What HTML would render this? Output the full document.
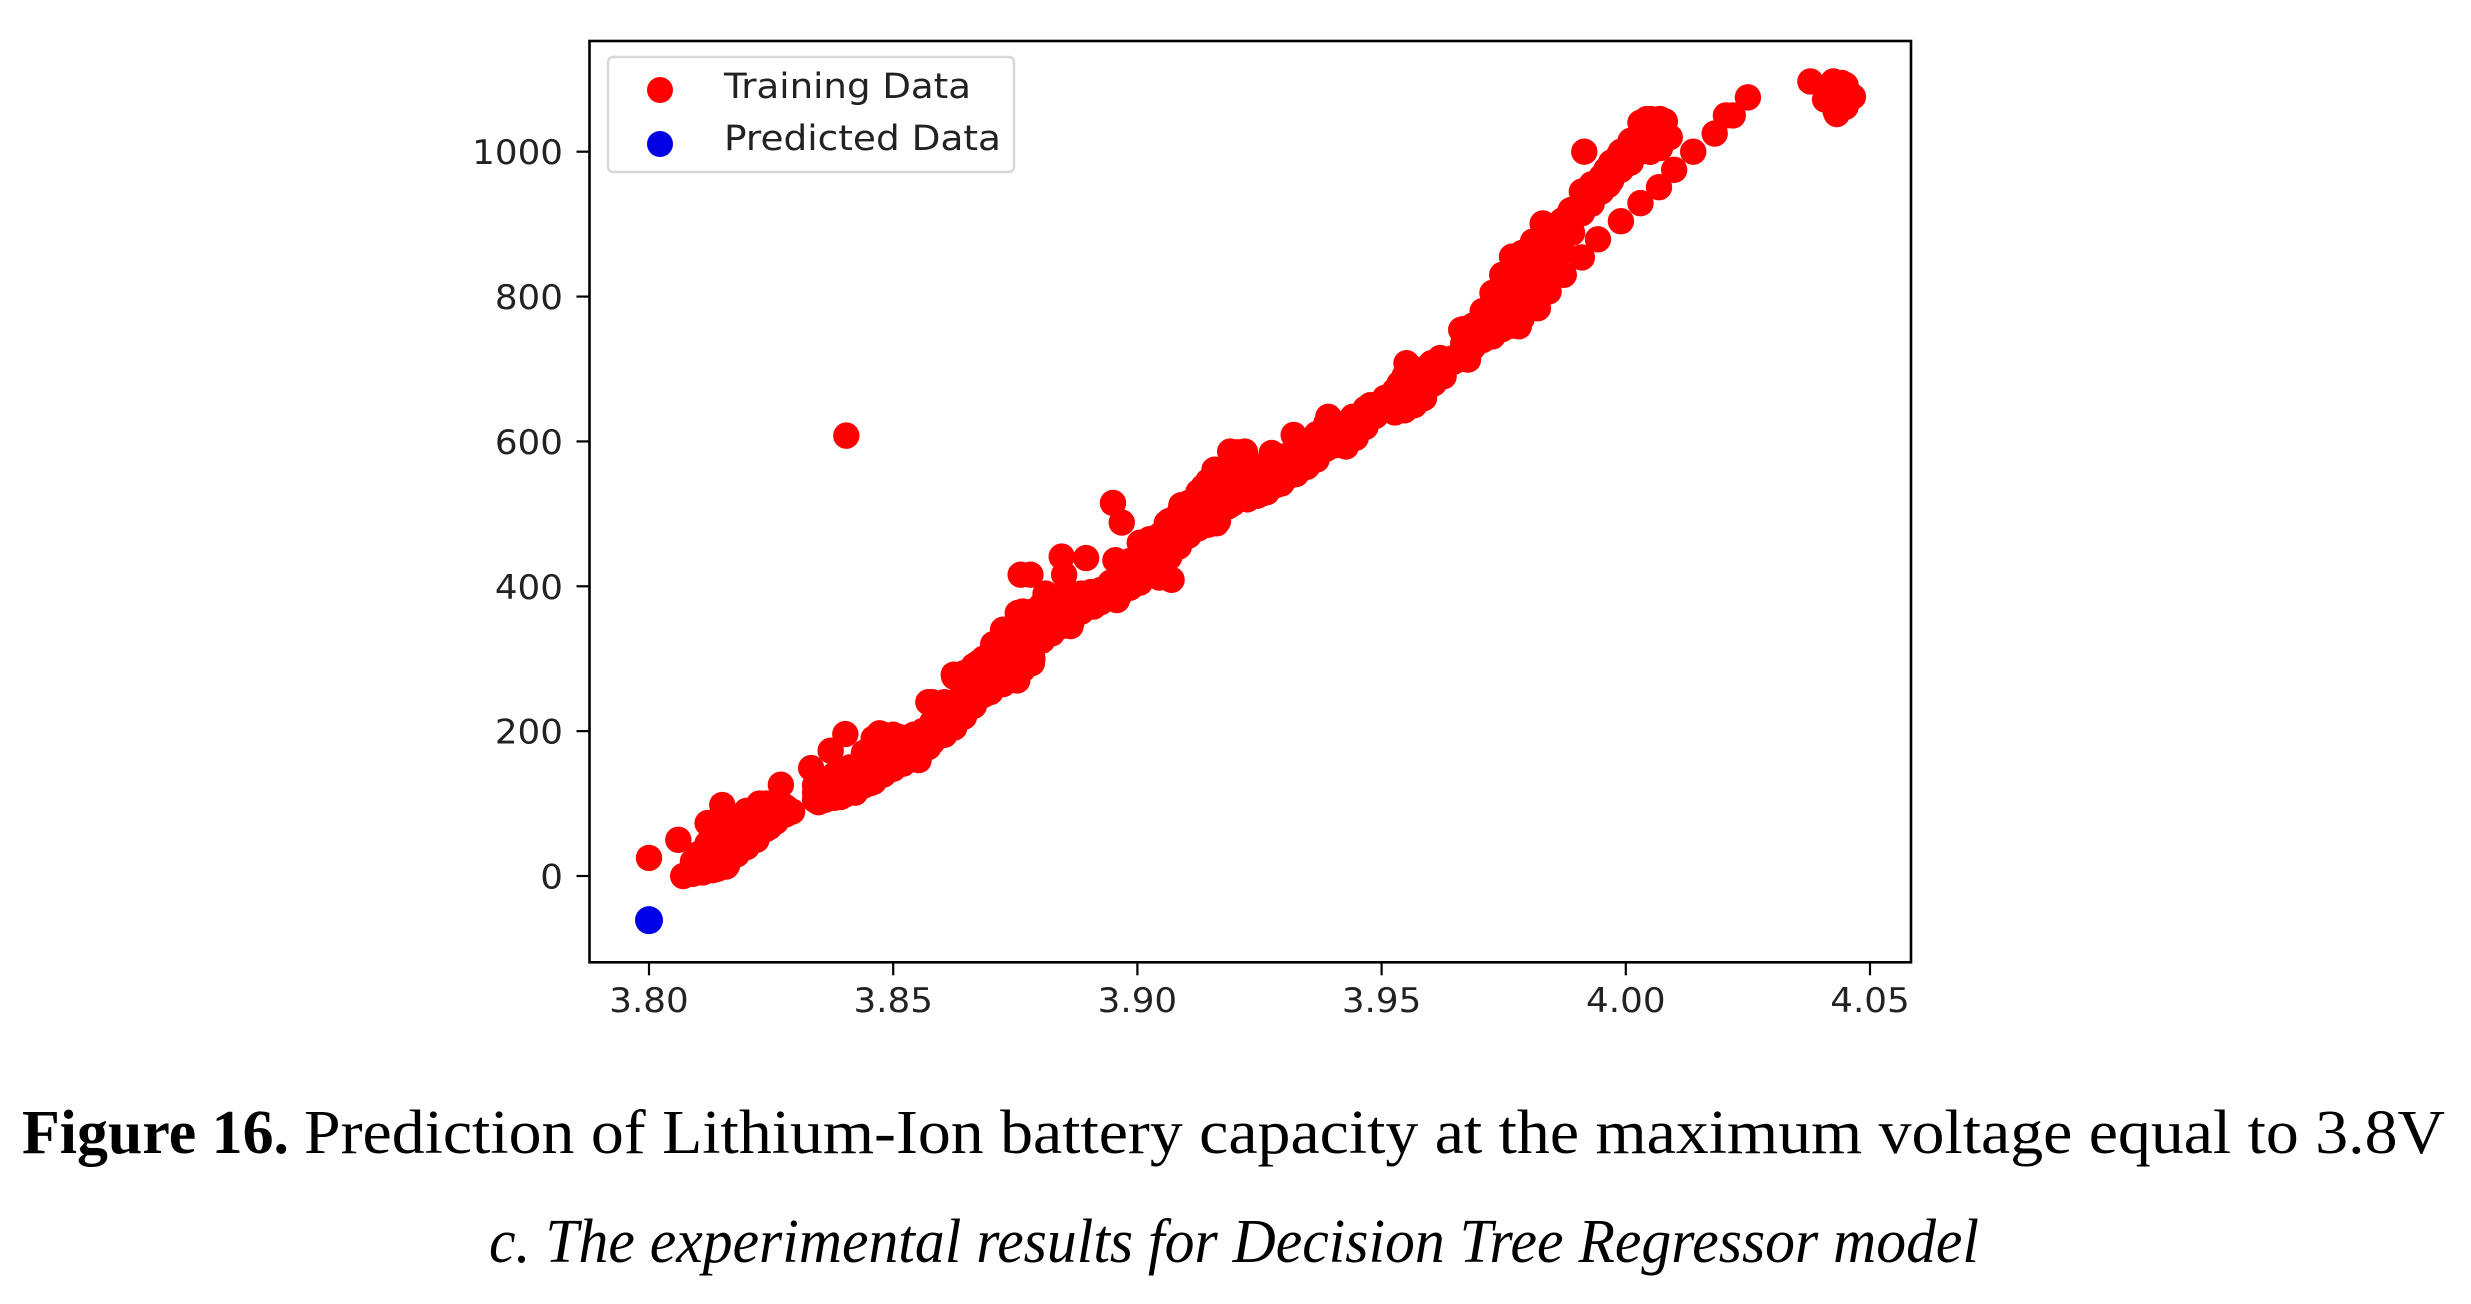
<!DOCTYPE html>
<html><head><meta charset="utf-8"><title>Figure 16</title>
<style>html,body{margin:0;padding:0;background:#fff}svg{display:block}</style></head>
<body>
<svg id="chart" xmlns="http://www.w3.org/2000/svg" width="2471" height="1304" viewBox="0 0 2471 1304">
<rect width="2471" height="1304" fill="#fff"/>
<g id="points"></g>
<rect x="589.5" y="41" width="1321.5" height="921.3" fill="none" stroke="#000" stroke-width="2.6"/>
<g id="ticks"></g>
<g>
<rect x="608" y="57" width="406" height="115" rx="5" fill="#fff" stroke="#d8d8d8" stroke-width="2.5"/>
<circle cx="660" cy="90" r="13" fill="#ff0000"/>
<circle cx="660" cy="144" r="13" fill="#0000e6"/>
<text x="724" y="98" font-family="DejaVu Sans, sans-serif" font-size="34.5" fill="#222" textLength="247" lengthAdjust="spacingAndGlyphs">Training Data</text>
<text x="724" y="150" font-family="DejaVu Sans, sans-serif" font-size="34.5" fill="#222" textLength="277" lengthAdjust="spacingAndGlyphs">Predicted Data</text>
</g>
<g font-family="Liberation Serif, serif" fill="#000">
<text x="22" y="1153" font-size="62" font-weight="bold" textLength="267" lengthAdjust="spacingAndGlyphs">Figure 16.</text>
<text x="304" y="1153" font-size="62" textLength="2141" lengthAdjust="spacingAndGlyphs">Prediction of Lithium-Ion battery capacity at the maximum voltage equal to 3.8V</text>
<text x="489" y="1262" font-size="62" font-style="italic" textLength="1490" lengthAdjust="spacingAndGlyphs">c. The experimental results for Decision Tree Regressor model</text>
</g>
</svg>
<script>
const xTickLabels = ["3.80","3.85","3.90","3.95","4.00","4.05"];
const yTickLabels = ["0","200","400","600","800","1000"];
const predictedVoltage = [3.80];
const predictedCapacity = [-61];
const trainingVoltage = [
3.80,3.806,3.807,3.809,3.811,3.813,3.8158,3.8185,3.809,3.811,3.812,3.815,3.813,3.816,3.818,3.820,3.821,3.8226,3.824,3.823,3.8247,3.827,3.8293,3.827,3.820,
3.8332,3.8372,3.8402,3.8347,3.8392,3.8362,3.8422,3.8452,3.8462,3.8412,3.8442,3.8452,3.8472,3.8512,3.8492,3.8482,3.8522,3.8552,3.8572,3.8542,3.8582,3.8614,3.8572,3.8604,3.8624,3.8592,3.8644,3.8664,3.8699,3.8664,3.8674,3.8694,3.8714,3.8734,3.8754,3.8784,3.8784,
3.8735,3.8705,3.8755,3.8785,3.8765,3.8805,3.8812,3.8761,3.8781,3.8845,3.8895,3.885,3.889,3.8863,3.8835,3.891,3.8958,3.8925,3.8955,3.897,3.895,3.8968,3.896,3.8985,3.9005,3.9025,3.907,3.9045,3.9045,3.906,3.9075,3.9101,3.909,3.9105,3.9135,3.9158,3.9162,3.9145,3.9195,3.9185,3.919,3.922,3.9215,3.9235,3.9255,3.9255,3.9275,3.9295,3.9315,3.932,3.9347,3.9367,3.9387,3.9391,3.9441,3.9407,3.9427,3.9462,3.9477,3.9507,3.9487,3.9527,3.9547,3.9584,3.9551,3.9602,3.9537,3.9567,3.9617,3.962,3.9657,3.9677,3.9663,
3.9708,3.9781,3.9756,3.9728,3.9756,3.9768,3.9748,3.982,3.9788,3.9842,3.9873,3.981,3.983,3.985,3.9798,3.983,3.986,3.9864,3.9887,3.991,3.992,3.991,3.9943,3.999,3.9964,3.996,3.9915,3.9985,4.0,4.003,4.0068,4.0099,4.0138,4.0182,4.0205,4.0219,4.025,4.005,4.003,4.0043,4.008,4.009,4.0065,4.006,
4.0378,4.0425,4.0442,4.0465,4.0432,4.0408,4.0427,4.0452,4.0442,3.8404
];
const trainingCapacity = [
25,50,0,3,5,8,13,36,20,30,73,98,45,40,55,60,75,100,95,70,68,126,89,95,85,
149,173,196,102,109,120,115,128,135,150,150,171,197,192,175,150,156,160,178,195,190,202,240,235,278,215,225,235,254,275,294,280,305,290,270,303,294,
340,320,363,360,330,335,390,416,416,441,439,416,386,345,370,372,381,385,436,428,515,488,400,405,460,425,409,412,441,487,455,469,512,490,537,561,487,510,514,545,586,586,555,530,528,555,584,542,560,609,570,585,600,634,634,615,593,625,650,660,640,645,643,659,708,708,680,680,690,715,713,713,754,
779,759,790,805,832,855,770,784,800,807,830,876,901,896,830,850,865,880,919,917,946,854,879,904,954,975,1000,994,982,929,951,975,1000,1025,1050,1050,1075,1000,1017,1045,1042,1020,1005,1025,
1097,1097,1095,1076,1052,1072,1075,1085,1065,608
];
const denseVoltage = [
3.81,3.812,3.814,3.816,3.818,3.82,3.822,3.824,3.826,3.828,
3.834,3.836,3.838,3.84,3.842,3.844,3.846,3.848,3.85,3.852,3.854,3.856,3.858,3.8605,3.8625,3.8645,3.8665,3.8685,
3.8705,3.8725,3.8745,3.8765,3.8785,3.8805,3.8825,3.8845,3.8865,3.8885,3.8905,3.8925,3.8945,3.8965,3.8985,3.9005,
3.9025,3.9045,3.9065,3.9085,3.9105,3.9125,3.9145,3.9165,3.9185,3.9205,3.9225,3.9245,3.9265,3.9285,3.9305,3.9325,
3.9347,3.9367,3.9387,3.9407,3.9427,3.9447,3.9467,3.9487,3.9507,3.9527,3.9547,3.9567,3.9587,3.9607,3.9627,3.9647,
3.9667,3.9687,3.9707,3.9727,3.9747,3.9767,3.9787,3.981,3.983,3.985,3.987,3.989,3.991,3.993,3.995,3.997,3.999,
4.001,4.003,4.005,4.007,4.043,4.045
];
const denseCapacityLow = [
5,8,10,15,30,40,50,65,75,85,
105,105,108,112,118,125,130,140,148,155,165,175,185,195,205,220,235,250,
260,265,275,285,300,325,335,345,350,365,372,378,385,390,398,405,
415,430,440,455,470,480,485,490,510,520,520,525,530,540,550,555,
565,575,590,595,595,605,620,635,645,640,645,650,660,680,690,710,
715,730,740,745,755,760,770,800,832,845,862,888,915,928,945,960,975,
985,1000,1000,1005,1055,1062
];
const denseCapacityMid = [
15,25,35,45,55,65,72,82,88,90,
115,118,125,128,135,148,160,168,172,172,178,188,212,218,240,250,262,275,
290,302,308,325,332,350,360,365,370,378,382,386,395,410,415,432,
440,450,465,478,492,505,515,525,538,552,545,545,545,555,565,570,
578,592,608,610,610,618,632,642,652,655,668,670,680,692,700,712,
735,745,760,775,792,808,815,838,865,870,885,905,930,940,955,972,988,
1000,1020,1022,1025,1075,1078
];
const denseCapacityHigh = [
30,45,65,75,80,90,95,100,100,95,
125,130,140,145,150,170,190,195,195,190,190,200,240,240,275,280,290,300,
320,340,340,365,365,375,385,385,390,390,392,395,405,430,435,460,
465,470,490,500,515,530,545,560,565,585,570,565,560,570,580,585,
590,610,625,625,625,630,645,650,660,670,690,690,700,705,710,715,
755,760,780,805,830,855,860,870,900,895,905,920,945,955,965,985,1000,
1015,1040,1045,1045,1090,1092
];
const NS = "http://www.w3.org/2000/svg";
const plotTop = 41, plotBottom = 962.3, plotLeft = 589.5;
const stretch = 1.05;
function xScale(v){ return 649 + (v - 3.80) * 4884; }
function yScale(v){ return 876 - v * 0.7243; }
const pointsLayer = document.getElementById('points');
const ticksLayer = document.getElementById('ticks');
function addTraining(v, cap){
  const c = document.createElementNS(NS, 'circle');
  
  
  c.setAttribute('cx', xScale(v));
  c.setAttribute('cy', yScale(cap));
  c.setAttribute('r', 13.2);
  c.setAttribute('fill', '#ff0000');
  pointsLayer.appendChild(c);
}
trainingVoltage.forEach(function(v, i){ addTraining(v, trainingCapacity[i]); });
denseVoltage.forEach(function(v, i){
  addTraining(v, denseCapacityLow[i]);
  addTraining(v, denseCapacityMid[i]);
  addTraining(v, denseCapacityHigh[i]);
});
predictedVoltage.forEach(function(v, i){
  const c = document.createElementNS(NS, 'circle');
  
  
  c.setAttribute('cx', xScale(v));
  c.setAttribute('cy', yScale(predictedCapacity[i]));
  c.setAttribute('r', 14);
  c.setAttribute('fill', '#0000e6');
  pointsLayer.appendChild(c);
});
function stretchText(t){
  t.setAttribute('textLength', t.getComputedTextLength() * stretch);
  t.setAttribute('lengthAdjust', 'spacingAndGlyphs');
}
xTickLabels.forEach(function(label){
  const x = xScale(parseFloat(label));
  const l = document.createElementNS(NS, 'line');
  
  
  l.setAttribute('x1', x); l.setAttribute('x2', x);
  l.setAttribute('y1', plotBottom); l.setAttribute('y2', plotBottom + 13);
  l.setAttribute('stroke', '#000'); l.setAttribute('stroke-width', 2.2);
  ticksLayer.appendChild(l);
  const t = document.createElementNS(NS, 'text');
  
  
  t.setAttribute('x', x); t.setAttribute('y', 1012);
  t.setAttribute('text-anchor', 'middle');
  t.setAttribute('font-family', 'DejaVu Sans, sans-serif');
  t.setAttribute('font-size', 34);
  t.setAttribute('fill', '#222');
  t.textContent = label;
  ticksLayer.appendChild(t);
  stretchText(t);
});
yTickLabels.forEach(function(label){
  const y = yScale(parseFloat(label));
  const l = document.createElementNS(NS, 'line');
  
  
  l.setAttribute('x1', plotLeft - 13); l.setAttribute('x2', plotLeft);
  l.setAttribute('y1', y); l.setAttribute('y2', y);
  l.setAttribute('stroke', '#000'); l.setAttribute('stroke-width', 2.2);
  ticksLayer.appendChild(l);
  const t = document.createElementNS(NS, 'text');
  
  
  t.setAttribute('x', 563); t.setAttribute('y', y + 12.5);
  t.setAttribute('text-anchor', 'end');
  t.setAttribute('font-family', 'DejaVu Sans, sans-serif');
  t.setAttribute('font-size', 34);
  t.setAttribute('fill', '#222');
  t.textContent = label;
  ticksLayer.appendChild(t);
  stretchText(t);
});
</script>
</body></html>
